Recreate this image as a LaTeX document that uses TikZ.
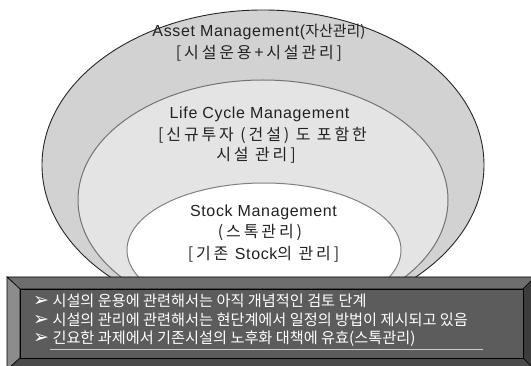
\documentclass[tikz,border=0pt]{standalone}
\usepackage{fontspec}
\setmainfont{Noto Sans CJK KR}
\newfontfamily\lat[LetterSpace=4]{Liberation Sans}
\newfontfamily\kr[LetterSpace=18]{Noto Sans CJK KR}
\newfontfamily\krn{Noto Sans CJK KR}
\newfontfamily\sym{DejaVu Sans}
\definecolor{outerfill}{HTML}{D2D2D2}
\definecolor{midfill}{HTML}{E4E4E4}
\definecolor{txt}{HTML}{222222}
\definecolor{bevtop}{HTML}{6E6E6E}
\definecolor{bevleft}{HTML}{8C8C8C}
\definecolor{bevright}{HTML}{3C3C3C}
\definecolor{bevbot}{HTML}{4A4A4A}
\definecolor{face}{HTML}{5C5C5C}
\newcommand{\latf}{\fontsize{16}{18}\selectfont\lat}
\newcommand{\krf}{\fontsize{16}{18}\selectfont\kr}
\newcommand{\krnf}{\fontsize{15}{18}\selectfont\krn}
\newcommand{\bul}{{\fontsize{19}{17}\selectfont\sym ➢}}
\tikzset{
  ringtext/.style={text=txt, inner sep=0pt},
  boxtext/.style={text=white, inner sep=0pt, anchor=west, font=\fontsize{15.2}{17}\selectfont},
  bevel/.style={draw=black, line width=0.6pt, line join=miter},
}
\begin{document}
\begin{tikzpicture}[x=1pt,y=-1pt]
\useasboundingbox (0,0) rectangle (531,366);
\fill[white] (0,0) rectangle (531,366);
% rings
\filldraw[fill=outerfill, draw=black!85, line width=0.9pt] (263,165) ellipse [x radius=221, y radius=155];
\filldraw[fill=midfill, draw=black!55, line width=1pt] (263,200) ellipse [x radius=185, y radius=120];
\filldraw[fill=white, draw=black!50, line width=1pt] (264,250) ellipse [x radius=137, y radius=67];
% ring texts
\node[ringtext] (a1) at (259,32) {\latf Asset Management(\krnf 자산관리)};
\node[ringtext] (a2) at (259,53) {\krf [시설운용+시설관리]};
\node[ringtext] (l1) at (259.5,114) {\latf Life Cycle Management};
\node[ringtext] (l2) at (262.5,135) {\krf [신규투자 (건설) 도 포함한};
\node[ringtext] (l3) at (256,155) {\krf 시설 관리]};
\node[ringtext] (s1) at (263.5,212) {\latf Stock Management};
\node[ringtext] (s2) at (260,232) {\krf (스톡관리)};
\node[ringtext] (s3) at (263.5,254) {\krf [기존 {\latf Stock}의 관리]};
% bevelled box
\coordinate (o1) at (7,277);
\coordinate (o2) at (535,277);
\coordinate (o3) at (535,370);
\coordinate (o4) at (7,370);
\coordinate (i1) at (20,289);
\coordinate (i2) at (523,289);
\coordinate (i3) at (523,358);
\coordinate (i4) at (20,358);
\filldraw[bevel, fill=bevtop] (o1) -- (o2) -- (i2) -- (i1) -- cycle;
\filldraw[bevel, fill=bevleft] (o1) -- (i1) -- (i4) -- (o4) -- cycle;
\filldraw[bevel, fill=bevright] (o2) -- (o3) -- (i3) -- (i2) -- cycle;
\filldraw[bevel, fill=bevbot] (o4) -- (i4) -- (i3) -- (o3) -- cycle;
\filldraw[bevel, fill=face] (i1) rectangle (i3);
% box texts
\node[boxtext] (b1) at (33,301) {\bul\ 시설의 운용에 관련해서는 아직 개념적인 검토 단계};
\node[boxtext] (b2) at (33,320) {\bul\ 시설의 관리에 관련해서는 현단계에서 일정의 방법이 제시되고 있음};
\node[boxtext] (b3) at (33,339) {\bul\ 긴요한 과제에서 기존시설의 노후화 대책에 유효(스톡관리)};
\coordinate (u1) at (50,349);
\coordinate (u2) at (483,349);
\draw[black!20, line width=0.9pt] (u1) -- (u2);
\end{tikzpicture}
\end{document}
